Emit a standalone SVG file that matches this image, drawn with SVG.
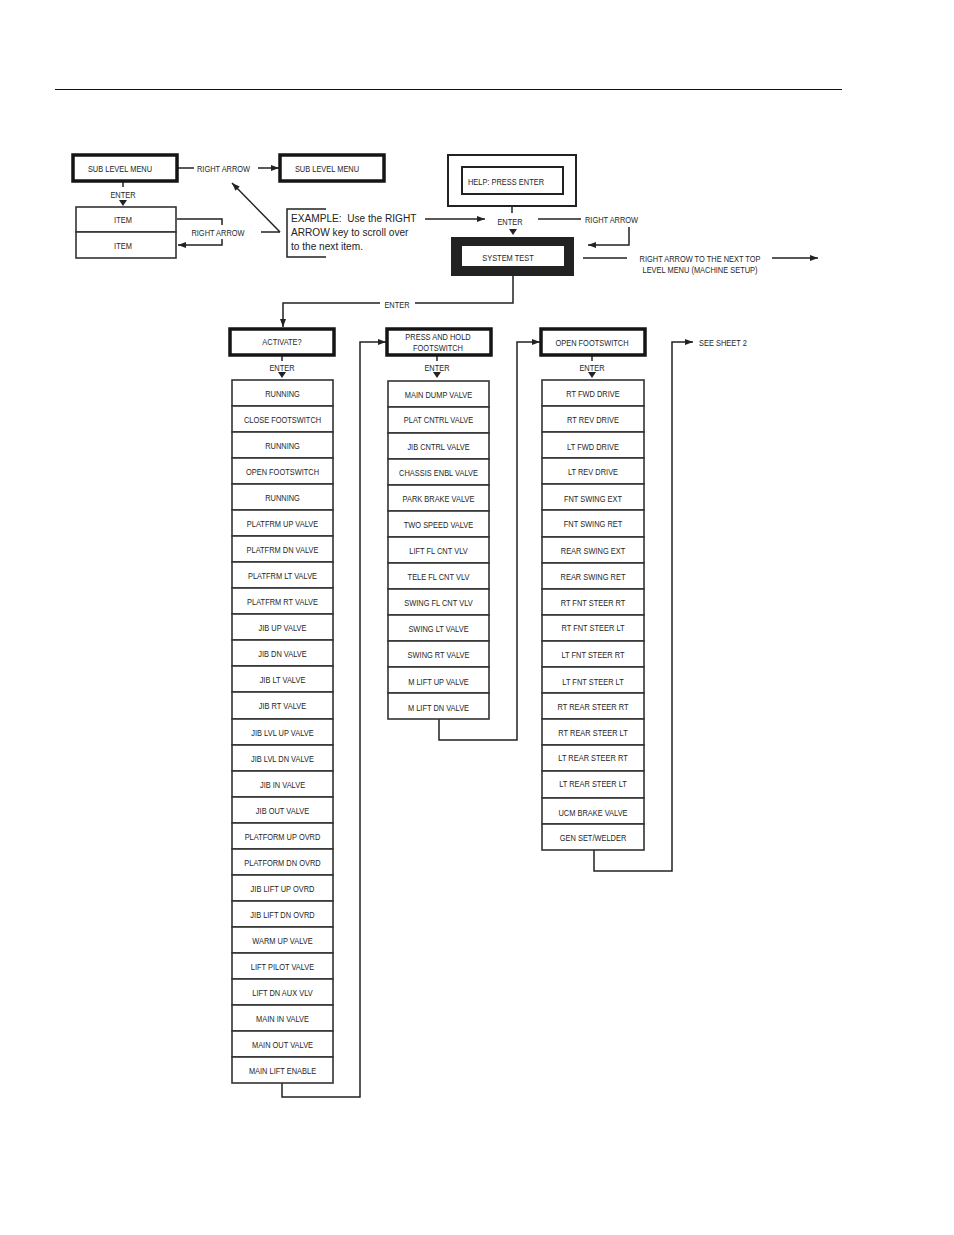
<svg xmlns="http://www.w3.org/2000/svg" width="954" height="1235" viewBox="0 0 954 1235">
<defs>
<marker id="ah" viewBox="0 0 8 6" refX="8" refY="3" markerWidth="8" markerHeight="6" orient="auto" markerUnits="userSpaceOnUse"><path d="M0,0 L8,3 L0,6 Z" fill="#222"/></marker>
</defs>
<style>
.t{font-family:"Liberation Sans",Arial,sans-serif;font-size:9.8px;fill:#262626;text-anchor:middle}
.ts{font-family:"Liberation Sans",Arial,sans-serif;font-size:9.8px;fill:#262626;text-anchor:start}
.ex{font-family:"Liberation Sans",Arial,sans-serif;font-size:11.5px;fill:#222;text-anchor:start}
.row{fill:#fff;stroke:#333;stroke-width:1.6}
.hd{fill:#fff;stroke:#151515;stroke-width:3.5}
.thin{fill:none;stroke:#222;stroke-width:2}
.ln{fill:none;stroke:#222;stroke-width:1.5}
.la{fill:none;stroke:#222;stroke-width:1.5;marker-end:url(#ah)}
.tri{fill:#222}
</style>
<rect width="954" height="1235" fill="#fff"/>
<line x1="55" y1="89.5" x2="842" y2="89.5" stroke="#111" stroke-width="1"/>

<g id="connectors">
<path class="ln" d="M178,168 H194"/>
<path class="la" d="M258,168 H279"/>
<path class="ln" d="M123,181 V187"/>
<path class="tri" d="M119,200 L127,200 L123,206 Z"/>
<path class="ln" d="M177,219 H222 V225"/>
<path class="la" d="M222,239 V245 H178"/>
<path class="ln" d="M261,232 H280"/>
<path class="la" d="M280,232 L232,183"/>
<path class="ln" d="M326,209 H287 V257 H326"/>
<path class="la" d="M425,219 H485"/>
<path class="ln" d="M512,206 V213"/>
<path class="tri" d="M509,229 L517,229 L513,235 Z"/>
<path class="ln" d="M538,219 H581"/>
<path class="la" d="M629,227 V245 H588"/>
<path class="ln" d="M583,258 H627"/>
<path class="la" d="M772,258 H818"/>
<path class="ln" d="M513,276 V303 H415"/>
<path class="la" d="M380,303 H283 V327"/>
<path class="ln" d="M282,355 V361"/>
<path class="tri" d="M278,372 L286,372 L282,378 Z"/>
<path class="ln" d="M437,355 V361"/>
<path class="tri" d="M433,372 L441,372 L437,378 Z"/>
<path class="ln" d="M592,355 V361"/>
<path class="tri" d="M588,372 L596,372 L592,378 Z"/>
<path class="la" d="M282,1083 V1097 H360 V342 H386"/>
<path class="la" d="M439,719 V740 H517 V342 H540"/>
<path class="la" d="M594,850 V871 H672 V342 H693"/>
</g>

<g id="labels">
<text class="ts" transform="translate(197,172) scale(0.76,1)">RIGHT ARROW</text>
<text class="t" transform="translate(123,197.5) scale(0.76,1)">ENTER</text>
<text class="t" transform="translate(218,235.5) scale(0.76,1)">RIGHT ARROW</text>
<text class="t" transform="translate(510,224.5) scale(0.76,1)">ENTER</text>
<text class="ts" transform="translate(585,222.5) scale(0.76,1)">RIGHT ARROW</text>
<text class="t" transform="translate(700,261.5) scale(0.76,1)">RIGHT ARROW TO THE NEXT TOP</text>
<text class="t" transform="translate(700,272.5) scale(0.76,1)">LEVEL MENU (MACHINE SETUP)</text>
<text class="t" transform="translate(397,307.5) scale(0.76,1)">ENTER</text>
<text class="t" transform="translate(282,370.5) scale(0.76,1)">ENTER</text>
<text class="t" transform="translate(437,370.5) scale(0.76,1)">ENTER</text>
<text class="t" transform="translate(592,370.5) scale(0.76,1)">ENTER</text>
<text class="ts" transform="translate(699,346) scale(0.76,1)">SEE SHEET 2</text>
</g>

<g id="example">
<text class="ex" xml:space="preserve" transform="translate(291,222) scale(0.88,1)">EXAMPLE:  Use the RIGHT</text>
<text class="ex" transform="translate(291,236) scale(0.88,1)">ARROW key to scroll over</text>
<text class="ex" transform="translate(291,250) scale(0.88,1)">to the next item.</text>
</g>

<g id="sub-level-menu-1"><rect class="hd" x="73" y="155" width="104" height="26"/><text class="t" transform="translate(120,171.5) scale(0.76,1)">SUB LEVEL MENU</text></g>
<g id="sub-level-menu-2"><rect class="hd" x="280" y="155" width="104" height="26"/><text class="t" transform="translate(327,171.5) scale(0.76,1)">SUB LEVEL MENU</text></g>
<g id="item-1"><rect class="row" x="76" y="207" width="100" height="25"/><text class="t" transform="translate(123,223) scale(0.76,1)">ITEM</text></g>
<g id="item-2"><rect class="row" x="76" y="232" width="100" height="26"/><text class="t" transform="translate(123,248.5) scale(0.76,1)">ITEM</text></g>

<g id="help"><rect class="thin" x="448" y="155" width="128" height="51"/><rect class="thin" x="462" y="167" width="101" height="27"/><text class="t" transform="translate(506,184.5) scale(0.76,1)">HELP: PRESS ENTER</text></g>
<g id="system-test"><rect x="451" y="237" width="123" height="39" fill="#222"/><rect x="462" y="246" width="102" height="20" fill="#fff"/><text class="t" transform="translate(508,260.5) scale(0.76,1)">SYSTEM TEST</text></g>

<g id="activate"><rect class="hd" x="230" y="329" width="104" height="26"/><text class="t" transform="translate(282,345) scale(0.76,1)">ACTIVATE?</text></g>
<g id="press-hold"><rect class="hd" x="387" y="329" width="104" height="26"/><text class="t" transform="translate(438,340) scale(0.76,1)">PRESS AND HOLD</text><text class="t" transform="translate(438,351) scale(0.76,1)">FOOTSWITCH</text></g>
<g id="open-footswitch"><rect class="hd" x="541" y="329" width="104" height="26"/><text class="t" transform="translate(592,345.5) scale(0.76,1)">OPEN FOOTSWITCH</text></g>

<g id="c1r1"><rect class="row" x="232" y="380" width="101" height="26"/><text class="t" transform="translate(282.5,396.5) scale(0.76,1)">RUNNING</text></g>
<g id="c1r2"><rect class="row" x="232" y="406" width="101" height="26"/><text class="t" transform="translate(282.5,422.5) scale(0.76,1)">CLOSE FOOTSWITCH</text></g>
<g id="c1r3"><rect class="row" x="232" y="432" width="101" height="26"/><text class="t" transform="translate(282.5,448.5) scale(0.76,1)">RUNNING</text></g>
<g id="c1r4"><rect class="row" x="232" y="458" width="101" height="26"/><text class="t" transform="translate(282.5,474.5) scale(0.76,1)">OPEN FOOTSWITCH</text></g>
<g id="c1r5"><rect class="row" x="232" y="484" width="101" height="26"/><text class="t" transform="translate(282.5,500.5) scale(0.76,1)">RUNNING</text></g>
<g id="c1r6"><rect class="row" x="232" y="510" width="101" height="26"/><text class="t" transform="translate(282.5,526.5) scale(0.76,1)">PLATFRM UP VALVE</text></g>
<g id="c1r7"><rect class="row" x="232" y="536" width="101" height="26"/><text class="t" transform="translate(282.5,552.5) scale(0.76,1)">PLATFRM DN VALVE</text></g>
<g id="c1r8"><rect class="row" x="232" y="562" width="101" height="26"/><text class="t" transform="translate(282.5,578.5) scale(0.76,1)">PLATFRM LT VALVE</text></g>
<g id="c1r9"><rect class="row" x="232" y="588" width="101" height="26"/><text class="t" transform="translate(282.5,604.5) scale(0.76,1)">PLATFRM RT VALVE</text></g>
<g id="c1r10"><rect class="row" x="232" y="614" width="101" height="26"/><text class="t" transform="translate(282.5,630.5) scale(0.76,1)">JIB UP VALVE</text></g>
<g id="c1r11"><rect class="row" x="232" y="640" width="101" height="26"/><text class="t" transform="translate(282.5,656.5) scale(0.76,1)">JIB DN VALVE</text></g>
<g id="c1r12"><rect class="row" x="232" y="666" width="101" height="26"/><text class="t" transform="translate(282.5,682.5) scale(0.76,1)">JIB LT VALVE</text></g>
<g id="c1r13"><rect class="row" x="232" y="692" width="101" height="27"/><text class="t" transform="translate(282.5,708.5) scale(0.76,1)">JIB RT VALVE</text></g>
<g id="c1r14"><rect class="row" x="232" y="719" width="101" height="26"/><text class="t" transform="translate(282.5,735.5) scale(0.76,1)">JIB LVL UP VALVE</text></g>
<g id="c1r15"><rect class="row" x="232" y="745" width="101" height="26"/><text class="t" transform="translate(282.5,761.5) scale(0.76,1)">JIB LVL DN VALVE</text></g>
<g id="c1r16"><rect class="row" x="232" y="771" width="101" height="26"/><text class="t" transform="translate(282.5,787.5) scale(0.76,1)">JIB IN VALVE</text></g>
<g id="c1r17"><rect class="row" x="232" y="797" width="101" height="26"/><text class="t" transform="translate(282.5,814) scale(0.76,1)">JIB OUT VALVE</text></g>
<g id="c1r18"><rect class="row" x="232" y="823" width="101" height="26"/><text class="t" transform="translate(282.5,839.5) scale(0.76,1)">PLATFORM UP OVRD</text></g>
<g id="c1r19"><rect class="row" x="232" y="849" width="101" height="26"/><text class="t" transform="translate(282.5,865.5) scale(0.76,1)">PLATFORM DN OVRD</text></g>
<g id="c1r20"><rect class="row" x="232" y="875" width="101" height="26"/><text class="t" transform="translate(282.5,891.5) scale(0.76,1)">JIB LIFT UP OVRD</text></g>
<g id="c1r21"><rect class="row" x="232" y="901" width="101" height="26"/><text class="t" transform="translate(282.5,917.5) scale(0.76,1)">JIB LIFT DN OVRD</text></g>
<g id="c1r22"><rect class="row" x="232" y="927" width="101" height="26"/><text class="t" transform="translate(282.5,944) scale(0.76,1)">WARM UP VALVE</text></g>
<g id="c1r23"><rect class="row" x="232" y="953" width="101" height="26"/><text class="t" transform="translate(282.5,970) scale(0.76,1)">LIFT PILOT VALVE</text></g>
<g id="c1r24"><rect class="row" x="232" y="979" width="101" height="26"/><text class="t" transform="translate(282.5,996) scale(0.76,1)">LIFT DN AUX VLV</text></g>
<g id="c1r25"><rect class="row" x="232" y="1005" width="101" height="26"/><text class="t" transform="translate(282.5,1021.5) scale(0.76,1)">MAIN IN VALVE</text></g>
<g id="c1r26"><rect class="row" x="232" y="1031" width="101" height="26"/><text class="t" transform="translate(282.5,1048) scale(0.76,1)">MAIN OUT VALVE</text></g>
<g id="c1r27"><rect class="row" x="232" y="1057" width="101" height="26"/><text class="t" transform="translate(282.5,1073.5) scale(0.76,1)">MAIN LIFT ENABLE</text></g>

<g id="c2r1"><rect class="row" x="388" y="381" width="101" height="26"/><text class="t" transform="translate(438.5,397.5) scale(0.76,1)">MAIN DUMP VALVE</text></g>
<g id="c2r2"><rect class="row" x="388" y="407" width="101" height="26"/><text class="t" transform="translate(438.5,423) scale(0.76,1)">PLAT CNTRL VALVE</text></g>
<g id="c2r3"><rect class="row" x="388" y="433" width="101" height="26"/><text class="t" transform="translate(438.5,449.5) scale(0.76,1)">JIB CNTRL VALVE</text></g>
<g id="c2r4"><rect class="row" x="388" y="459" width="101" height="26"/><text class="t" transform="translate(438.5,476) scale(0.76,1)">CHASSIS ENBL VALVE</text></g>
<g id="c2r5"><rect class="row" x="388" y="485" width="101" height="26"/><text class="t" transform="translate(438.5,502) scale(0.76,1)">PARK BRAKE VALVE</text></g>
<g id="c2r6"><rect class="row" x="388" y="511" width="101" height="26"/><text class="t" transform="translate(438.5,527.5) scale(0.76,1)">TWO SPEED VALVE</text></g>
<g id="c2r7"><rect class="row" x="388" y="537" width="101" height="26"/><text class="t" transform="translate(438.5,554) scale(0.76,1)">LIFT FL CNT VLV</text></g>
<g id="c2r8"><rect class="row" x="388" y="563" width="101" height="26"/><text class="t" transform="translate(438.5,579.5) scale(0.76,1)">TELE FL CNT VLV</text></g>
<g id="c2r9"><rect class="row" x="388" y="589" width="101" height="26"/><text class="t" transform="translate(438.5,605.5) scale(0.76,1)">SWING FL CNT VLV</text></g>
<g id="c2r10"><rect class="row" x="388" y="615" width="101" height="26"/><text class="t" transform="translate(438.5,631.5) scale(0.76,1)">SWING LT VALVE</text></g>
<g id="c2r11"><rect class="row" x="388" y="641" width="101" height="26"/><text class="t" transform="translate(438.5,658) scale(0.76,1)">SWING RT VALVE</text></g>
<g id="c2r12"><rect class="row" x="388" y="667" width="101" height="26"/><text class="t" transform="translate(438.5,684.5) scale(0.76,1)">M LIFT UP VALVE</text></g>
<g id="c2r13"><rect class="row" x="388" y="693" width="101" height="26"/><text class="t" transform="translate(438.5,710.5) scale(0.76,1)">M LIFT DN VALVE</text></g>

<g id="c3r1"><rect class="row" x="542" y="380" width="102" height="26"/><text class="t" transform="translate(593,396.5) scale(0.76,1)">RT FWD DRIVE</text></g>
<g id="c3r2"><rect class="row" x="542" y="406" width="102" height="26"/><text class="t" transform="translate(593,423) scale(0.76,1)">RT REV DRIVE</text></g>
<g id="c3r3"><rect class="row" x="542" y="432" width="102" height="26"/><text class="t" transform="translate(593,449.5) scale(0.76,1)">LT FWD DRIVE</text></g>
<g id="c3r4"><rect class="row" x="542" y="458" width="102" height="26"/><text class="t" transform="translate(593,474.5) scale(0.76,1)">LT REV DRIVE</text></g>
<g id="c3r5"><rect class="row" x="542" y="484" width="102" height="26"/><text class="t" transform="translate(593,501.5) scale(0.76,1)">FNT SWING EXT</text></g>
<g id="c3r6"><rect class="row" x="542" y="510" width="102" height="27"/><text class="t" transform="translate(593,526.5) scale(0.76,1)">FNT SWING RET</text></g>
<g id="c3r7"><rect class="row" x="542" y="537" width="102" height="26"/><text class="t" transform="translate(593,553.5) scale(0.76,1)">REAR SWING EXT</text></g>
<g id="c3r8"><rect class="row" x="542" y="563" width="102" height="26"/><text class="t" transform="translate(593,579.5) scale(0.76,1)">REAR SWING RET</text></g>
<g id="c3r9"><rect class="row" x="542" y="589" width="102" height="26"/><text class="t" transform="translate(593,605.5) scale(0.76,1)">RT FNT STEER RT</text></g>
<g id="c3r10"><rect class="row" x="542" y="615" width="102" height="26"/><text class="t" transform="translate(593,630.5) scale(0.76,1)">RT FNT STEER LT</text></g>
<g id="c3r11"><rect class="row" x="542" y="641" width="102" height="26"/><text class="t" transform="translate(593,657.5) scale(0.76,1)">LT FNT STEER RT</text></g>
<g id="c3r12"><rect class="row" x="542" y="667" width="102" height="26"/><text class="t" transform="translate(593,684.5) scale(0.76,1)">LT FNT STEER LT</text></g>
<g id="c3r13"><rect class="row" x="542" y="693" width="102" height="26"/><text class="t" transform="translate(593,709.5) scale(0.76,1)">RT REAR STEER RT</text></g>
<g id="c3r14"><rect class="row" x="542" y="719" width="102" height="26"/><text class="t" transform="translate(593,735.5) scale(0.76,1)">RT REAR STEER LT</text></g>
<g id="c3r15"><rect class="row" x="542" y="745" width="102" height="26"/><text class="t" transform="translate(593,760.5) scale(0.76,1)">LT REAR STEER RT</text></g>
<g id="c3r16"><rect class="row" x="542" y="771" width="102" height="27"/><text class="t" transform="translate(593,786.5) scale(0.76,1)">LT REAR STEER LT</text></g>
<g id="c3r17"><rect class="row" x="542" y="798" width="102" height="26"/><text class="t" transform="translate(593,815.5) scale(0.76,1)">UCM BRAKE VALVE</text></g>
<g id="c3r18"><rect class="row" x="542" y="824" width="102" height="26"/><text class="t" transform="translate(593,840.5) scale(0.76,1)">GEN SET/WELDER</text></g>
</svg>
